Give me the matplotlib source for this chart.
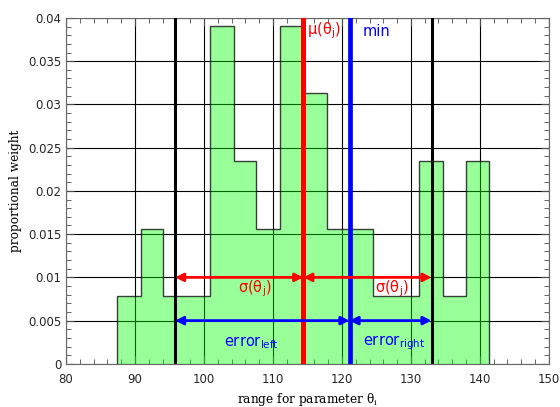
import matplotlib
matplotlib.use("Agg")
import matplotlib.pyplot as plt
from matplotlib.ticker import MultipleLocator, FormatStrFormatter

# Histogram of parameter samples (bin edges and proportional weights)
bin_edges = [87.4, 90.8, 94.1, 97.5, 100.9, 104.3, 107.6, 111.0, 114.4,
             117.8, 121.1, 124.5, 127.9, 131.2, 134.6, 138.0, 141.3]
weights = [0.0078, 0.0156, 0.0078, 0.0078, 0.0391, 0.0234, 0.0156, 0.0391,
           0.0313, 0.0156, 0.0156, 0.0078, 0.0078, 0.0234, 0.0078, 0.0234]

# Statistics
mean_val = 114.4
min_val = 121.1
sigma_left = 95.8
sigma_right = 133.0
sigma_y = 0.01
error_y = 0.005

plt.rcParams['mathtext.default'] = 'regular'

fig = plt.figure(figsize=(5.6, 4.07), dpi=100)
ax = fig.add_axes([0.118, 0.106, 0.862, 0.850])

ax.stairs(weights, bin_edges, fill=True, facecolor=(0, 1, 0, 0.4),
          edgecolor=(0, 0, 0, 0.75), linewidth=1.0, zorder=1)

# Vertical markers
ax.axvline(sigma_left, color='black', lw=2.2, zorder=3)
ax.axvline(sigma_right, color='black', lw=2.2, zorder=3)
ax.axvline(mean_val, color='red', lw=3.6, zorder=3)
ax.axvline(min_val, color='blue', lw=3.4, zorder=3)

# Arrows
arrow_kw = dict(arrowstyle='<|-|>', lw=2, shrinkA=0, shrinkB=0, mutation_scale=12)
for x0, x1 in [(mean_val, sigma_left), (mean_val, sigma_right)]:
    ax.annotate('', xy=(x1, sigma_y), xytext=(x0, sigma_y),
                arrowprops=dict(color='red', **arrow_kw), zorder=4)
for x0, x1 in [(min_val, sigma_left), (min_val, sigma_right)]:
    ax.annotate('', xy=(x1, error_y), xytext=(x0, error_y),
                arrowprops=dict(color='blue', **arrow_kw), zorder=4)

# Labels in the plot
txt_kw = dict(fontsize=10.5, family='DejaVu Sans', va='center', ha='left', zorder=5)
ax.text(114.9, 0.0385, r'μ(θ$_j$)', color='red', **txt_kw)
ax.text(123.0, 0.0384, 'min', color='blue', **txt_kw)
ax.text(104.9, 0.0087, r'σ(θ$_j$)', color='red', **txt_kw)
ax.text(124.8, 0.0087, r'σ(θ$_j$)', color='red', **txt_kw)
ax.text(102.9, 0.0025, r'error$_{left}$', color='blue', **txt_kw)
ax.text(123.0, 0.0025, r'error$_{right}$', color='blue', **txt_kw)

ax.set_xlim(80, 150)
ax.set_ylim(0, 0.04)
ax.xaxis.set_major_locator(MultipleLocator(10))
ax.xaxis.set_minor_locator(MultipleLocator(2))
ax.yaxis.set_major_locator(MultipleLocator(0.005))
ax.yaxis.set_minor_locator(MultipleLocator(0.001))
ax.yaxis.set_major_formatter(FormatStrFormatter('%g'))

ax.set_axisbelow(True)
ax.grid(True, which='major', color='black', lw=0.8)

ax.tick_params(which='both', direction='in', top=True, right=True,
               labelsize=8.5, color='0.3', labelcolor='0.15')
ax.tick_params(which='major', length=6)
ax.tick_params(which='minor', length=3.5)
ax.tick_params(axis='x', which='major', pad=6.5)
for sp in ax.spines.values():
    sp.set_color('0.4')

ax.set_xlabel(r'range for parameter θ$_i$', family='DejaVu Serif',
              fontsize=8.7, labelpad=4)
ax.set_ylabel('proportional weight', family='DejaVu Serif', fontsize=8.7)

plt.savefig("out.png", dpi=100)
